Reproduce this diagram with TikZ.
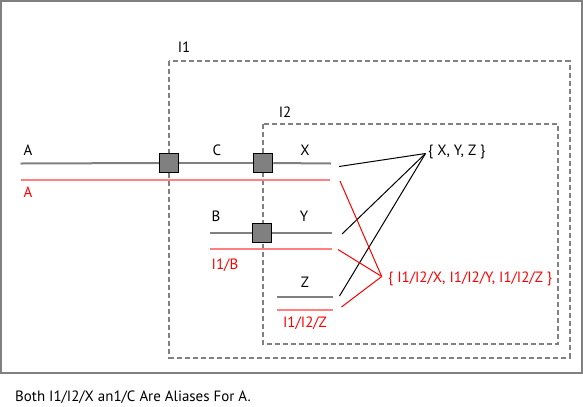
\documentclass[tikz,border=0pt]{standalone}
\usepackage{fontspec}
\setmainfont{PT Sans}
\definecolor{linegray}{HTML}{808080}
\definecolor{palered}{HTML}{FF8080}
\definecolor{aliasred}{HTML}{FF0000}
\begin{document}
\begin{tikzpicture}[x=1bp,y=1bp,
    port/.style={draw=black,fill=linegray,line width=1bp,minimum size=19.5bp},
    wire/.style={linegray,line width=2bp},
    alias/.style={palered,line width=2bp},
    frame/.style={linegray,line width=2bp,dash pattern=on 5bp off 3bp},
    lbl/.style={anchor=base,font=\fontsize{15}{17}\selectfont},
    redlbl/.style={lbl,text=aliasred}]
    \tikzstyle{every node}+=[inner sep=0pt]
    \useasboundingbox (0,0) rectangle (583,-406);
    \draw [linegray,line width=2bp] (1,-1) rectangle (581.5,-372.5);
    \draw [frame] (169.3,-61.3) rectangle (569.5,-357.5);
    \draw [frame] (263.3,-124.3) rectangle (558,-344.3);
    \node [lbl] (i1) at (184,-52.5) {I1};
    \node [lbl] (i2) at (285,-117.5) {I2};
    \coordinate (a0) at (20.5,-163.5);
    \coordinate (x1) at (331,-163.5);
    \coordinate (ra0) at (20.5,-180);
    \coordinate (rx1) at (330,-180);
    \coordinate (b0) at (210,-233);
    \coordinate (y1) at (332,-233);
    \coordinate (rb0) at (210,-249.3);
    \coordinate (ry1) at (332,-249.3);
    \coordinate (z0) at (277,-296.7);
    \coordinate (z1) at (333,-296.7);
    \coordinate (rz0) at (277,-310);
    \coordinate (rz1) at (333,-310);
    \node [port] (pa) at (169,-163) {};
    \node [port] (pc) at (263,-163) {};
    \node [port] (pb) at (262,-233) {};
    \draw [wire] (a0) -- (pa.west);
    \draw [wire] (pa.east) -- (pc.west);
    \draw [wire] (pc.east) -- (x1);
    \draw [wire] (b0) -- (pb.west);
    \draw [wire] (pb.east) -- (y1);
    \draw [wire] (z0) -- (z1);
    \draw [alias] (ra0) -- (rx1);
    \draw [alias] (rb0) -- (ry1);
    \draw [alias] (rz0) -- (rz1);
    \node [lbl] (la) at (28,-155.5) {A};
    \node [lbl] (lc) at (217,-155.5) {C};
    \node [lbl] (lx) at (305,-155.5) {X};
    \node [lbl] (lb) at (216,-221.5) {B};
    \node [lbl] (ly) at (304,-221.5) {Y};
    \node [lbl] (lz) at (305,-287.8) {Z};
    \node [redlbl] (ra) at (28,-197.8) {A};
    \node [redlbl] (rb) at (225,-269) {I1/B};
    \node [redlbl] (rz) at (305,-327) {I1/I2/Z};
    \coordinate (setb) at (425.5,-153.5);
    \coordinate (setr) at (381.7,-276.5);
    \node [lbl,anchor=base west] (nameset) at (428,-155.5) {\{ X, Y, Z \}};
    \node [redlbl,anchor=base west] (aliasset) at (388,-282.3) {\{ I1/I2/X, I1/I2/Y, I1/I2/Z \}};
    \coordinate (ex) at (339,-166.5);
    \coordinate (ey) at (342,-234);
    \coordinate (ez) at (339.5,-296);
    \coordinate (fx) at (340,-181);
    \coordinate (fy) at (338,-249.5);
    \coordinate (fz) at (341.5,-307);
    \draw [black,line width=1bp] (ex) -- (setb);
    \draw [black,line width=1bp] (ey) -- (setb);
    \draw [black,line width=1bp] (ez) -- (setb);
    \draw [aliasred,line width=1bp] (fx) -- (setr);
    \draw [aliasred,line width=1bp] (fy) -- (setr);
    \draw [aliasred,line width=1bp] (fz) -- (setr);
    \node [lbl,anchor=base west] (note) at (15,-401.5) {Both I1/I2/X an1/C Are Aliases For A.};
\end{tikzpicture}
\end{document}
